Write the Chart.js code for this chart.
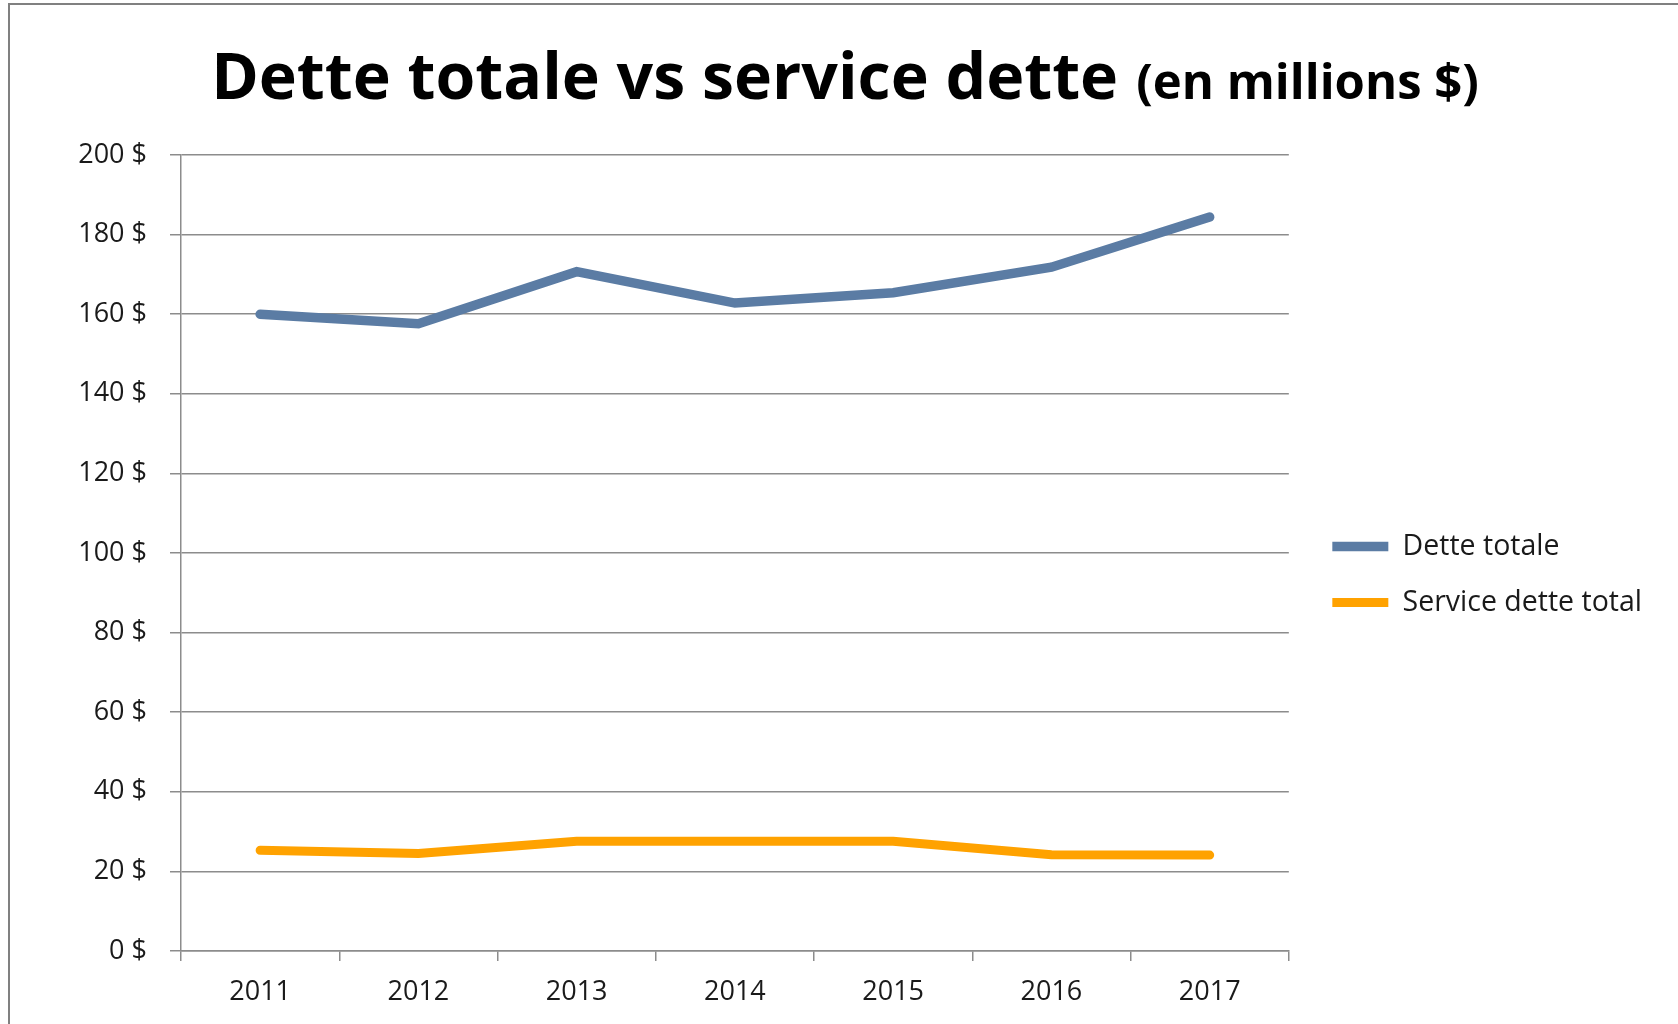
<!DOCTYPE html>
<html>
<head>
<meta charset="utf-8">
<script src="https://cdn.jsdelivr.net/npm/chart.js@4.4.1/dist/chart.umd.min.js"></script>
<style>
  html, body { margin: 0; padding: 0; background: #fff; overflow: hidden; }
  #frame { position: absolute; left: 8px; top: 3px; width: 2000px; height: 1200px;
           border-left: 2px solid #808080; border-top: 2px solid #808080; }
  #title { position: absolute; left: 0; width: 1690px; top: 30px; text-align: center;
           font-family: "Open Sans", sans-serif; font-weight: bold; color: #000; white-space: nowrap; }
  #title .big { font-size: 64.4px; }
  #title .small { font-size: 49px; margin-left: 18px; }
  #wrap { position: absolute; left: 0; top: 0; width: 1678px; height: 1024px; }
</style>
</head>
<body>
<div id="frame"></div>
<div id="title"><span class="big">Dette totale vs service dette</span><span class="small">(en millions $)</span></div>
<div id="wrap"><canvas id="myChart" width="1678" height="1024"></canvas></div>
<script>
// data
var years = ["2011", "2012", "2013", "2014", "2015", "2016", "2017"];
var detteTotale = [160, 157.6, 170.7, 162.8, 165.4, 171.8, 184.4];
var serviceDette = [25.3, 24.5, 27.6, 27.6, 27.6, 24.2, 24.1];
var seriesNames = ["Dette totale", "Service dette total"];
var seriesColors = ["#5b7ca4", "#ffa200"];

var gridColor = "#8c8c8c";
var fontName = "'Open Sans', sans-serif";

// push the legend a bit away from the plot, and up a little
var legendGap = {
  id: "legendGap",
  beforeLayout: function(chart) {
    var lg = chart.legend;
    if (lg && !lg._gapWrapped) {
      var fit = lg.fit;
      lg.fit = function() { fit.call(this); if (!this.isHorizontal()) this.width += 16; };
      lg._gapWrapped = true;
    }
  },
  afterLayout: function(chart) {
    var lg = chart.legend;
    lg.left += 16;
    lg.top -= 15;
    lg.bottom -= 15;
  }
};

new Chart("myChart", {
  type: "line",
  data: {
    labels: years,
    datasets: [{
      label: seriesNames[0],
      data: detteTotale,
      borderColor: seriesColors[0],
      backgroundColor: seriesColors[0],
      borderWidth: 9.5,
      borderCapStyle: "round",
      pointRadius: 0,
      tension: 0
    }, {
      label: seriesNames[1],
      data: serviceDette,
      borderColor: seriesColors[1],
      backgroundColor: seriesColors[1],
      borderWidth: 9,
      borderCapStyle: "round",
      pointRadius: 0,
      tension: 0
    }]
  },
  plugins: [legendGap],
  options: {
    responsive: false,
    animation: false,
    devicePixelRatio: 1,
    layout: { padding: { top: 155, left: 20, right: 26, bottom: 0 } },
    plugins: {
      title: { display: false },
      tooltip: { enabled: false },
      legend: {
        position: "right",
        labels: {
          usePointStyle: true,
          pointStyle: "line",
          pointStyleWidth: 56,
          color: "#1a1a1a",
          font: { family: fontName, size: 28.5 },
          padding: 27.5
        }
      }
    },
    scales: {
      x: {
        offset: true,
        border: { color: gridColor, width: 1.5 },
        grid: { offset: true, drawOnChartArea: false, drawTicks: true, tickLength: 10, color: gridColor, lineWidth: 1.5 },
        ticks: { color: "#1a1a1a", font: { family: fontName, size: 27 }, padding: 15, maxRotation: 0 },
        afterFit: function(scale) { scale.height = 73; }
      },
      y: {
        min: 0,
        max: 200,
        border: { color: gridColor, width: 1.5 },
        grid: { color: gridColor, lineWidth: 1.5, tickLength: 11 },
        ticks: {
          stepSize: 20,
          color: "#1a1a1a",
          font: { family: fontName, size: 27 },
          padding: 23,
          callback: function(v) { return v + " $"; }
        },
        afterFit: function(scale) { scale.width = 161; }
      }
    }
  }
});
</script>
</body>
</html>
